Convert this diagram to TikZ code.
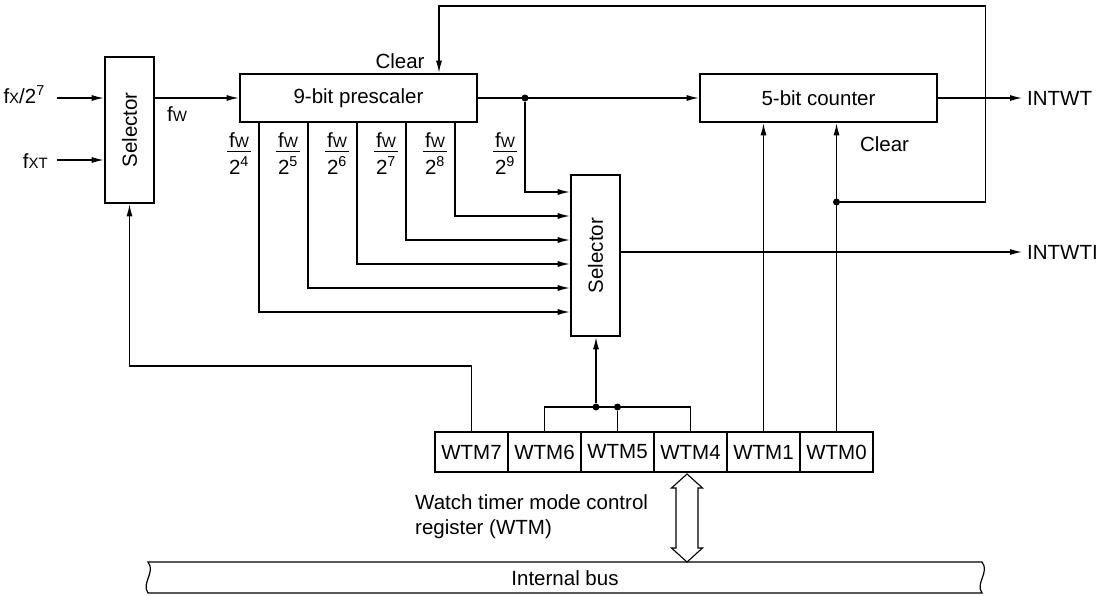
\documentclass[tikz,border=0pt]{standalone}
\usepackage{fontspec}
\setmainfont{Liberation Sans}
\usetikzlibrary{arrows.meta}
\newcommand\sm[1]{{\fontsize{15}{15}\selectfont #1}}
\newcommand\tapfrac[1]{\begin{tabular}{@{\hspace{2pt}}c@{\hspace{2pt}}}f\sm{W}\\[-4pt]\hline\rule{0pt}{22pt}2\textsuperscript{#1}\end{tabular}}
\setlength\arrayrulewidth{1.1pt}

\begin{document}
\begin{tikzpicture}
      [%%%%%%%%%%%%%%%%%%%%%%%%%%%%%%
      x=1pt,y=-1pt,
      every node/.style={font=\fontsize{20.5}{25}\selectfont},
      box/.style={rectangle,draw=black,line width=2.6pt,inner sep=0pt},
      cell/.style={rectangle,draw=black,line width=2.4pt,minimum width=73pt,minimum height=40pt,inner sep=0pt},
      lbl/.style={inner sep=0pt},
      sig/.style={draw=black,line width=1.2pt,-{Latex[length=12pt,width=6pt]}},
      wire/.style={draw=black,line width=1.2pt},
      dot/.style={circle,fill=black,inner sep=0pt,minimum size=7pt},
      ]%%%%%%%%%%%%%%%%%%%%%%%%%%%%%%

      \useasboundingbox (0,0) rectangle (1107,596);

      % blocks
      \node[box,minimum width=49pt,minimum height=146pt] (sel1) at (129.5,130) {\rotatebox{90}{Selector}};
      \node[box,minimum width=237pt,minimum height=48pt] (pre) at (358.5,98) {9-bit prescaler};
      \node[box,minimum width=237pt,minimum height=48pt] (cnt) at (818.5,98) {5-bit counter};
      \node[box,minimum width=49pt,minimum height=161pt] (sel2) at (595.5,255.5) {\rotatebox{90}{Selector}};
      \foreach \n/\x in {7/471.5,6/544.5,5/617.5,4/690.5,1/763.5,0/836.5}
        \node[cell] (wtm\n) at (\x,452) {WTM\n};

      % inputs
      \node[lbl,anchor=base east] (lfx) at (45,103.5) {f\sm{X}/2\textsuperscript{7}};
      \node[lbl,anchor=base east] (lfxt) at (48,168) {f\sm{XT}};
      \coordinate (fxin) at (57,98);
      \coordinate (fxtin) at (57,160);
      \draw[sig] (fxin) -- (fxin -| sel1.west);
      \draw[sig] (fxtin) -- (fxtin -| sel1.west);
      \node[lbl] (lfw) at (177,114) {f\sm{W}};
      \draw[sig] (pre.west -| sel1.east) -- (pre.west);

      % prescaler taps
      \foreach \n/\x/\y in {4/259/312,5/308/288,6/357/264,7/406/240,8/455/216}{
        \draw[sig] (\x,0 |- pre.south) |- (sel2.west |- 0,\y);
        \node[lbl] (f\n) at (\x-20,156) {\tapfrac{\n}};
      }
      \node[dot] (j4) at (525,98) {};
      \node[lbl] (f9) at (505,156) {\tapfrac{9}};
      \draw[sig] (pre.east) -- (cnt.west);
      \draw[sig] (j4) |- (sel2.west |- 0,192);

      % outputs
      \node[lbl,anchor=west,inner xsep=5pt] (intwt) at (1022,98) {INTWT};
      \node[lbl,anchor=west,inner xsep=5pt] (intwti) at (1022,252) {INTWTI};
      \draw[sig] (cnt.east) -- (intwt.west);
      \draw[sig] (sel2.east |- intwti) -- (intwti.west);

      % clear path
      \node[dot] (j3) at (wtm0.north |- 0,202) {};
      \coordinate (clr) at (439,0 |- pre.north);
      \draw[sig] (j3) -- ++(149,0) |- (clr |- 0,6) -- (clr);
      \node[lbl] (lclr1) at (400,61) {Clear};
      \node[lbl] (lclr2) at (884.5,144.5) {Clear};
      \draw[sig] (wtm1.north) -- (wtm1.north |- cnt.south);
      \draw[sig] (wtm0.north) -- (wtm0.north |- cnt.south);

      % mode bits
      \draw[sig] (wtm7.north) -- (wtm7.north |- 0,366) -| (sel1.south);
      \node[dot] (j1) at (596,407) {};
      \node[dot] (j2) at (wtm5.north |- 0,407) {};
      \draw[wire] (wtm6.north) |- (wtm4.north |- j1) -- (wtm4.north);
      \draw[wire] (wtm5.north) -- (j2);
      \draw[sig] (j1) -- (j1 |- sel2.south);

      % bus
      \draw[line width=1.1pt,fill=white] (687,474) -- (702.5,488) -- (698,488) -- (698,548) -- (702.5,548) -- (687,562)
        -- (671.5,548) -- (676,548) -- (676,488) -- (671.5,488) -- cycle;
      \draw[line width=1.2pt] (148,562) -- (982,562) .. controls (990,572) and (975,583) .. (982,593)
        -- (148,593) .. controls (141,583) and (156,572) .. cycle;
      \node[lbl] (lbus) at (565,578) {Internal bus};
      \node[lbl,anchor=north west,align=left] (lwtm) at (415,494) {Watch timer mode control\\register (WTM)};
    \end{tikzpicture}
\end{document}
